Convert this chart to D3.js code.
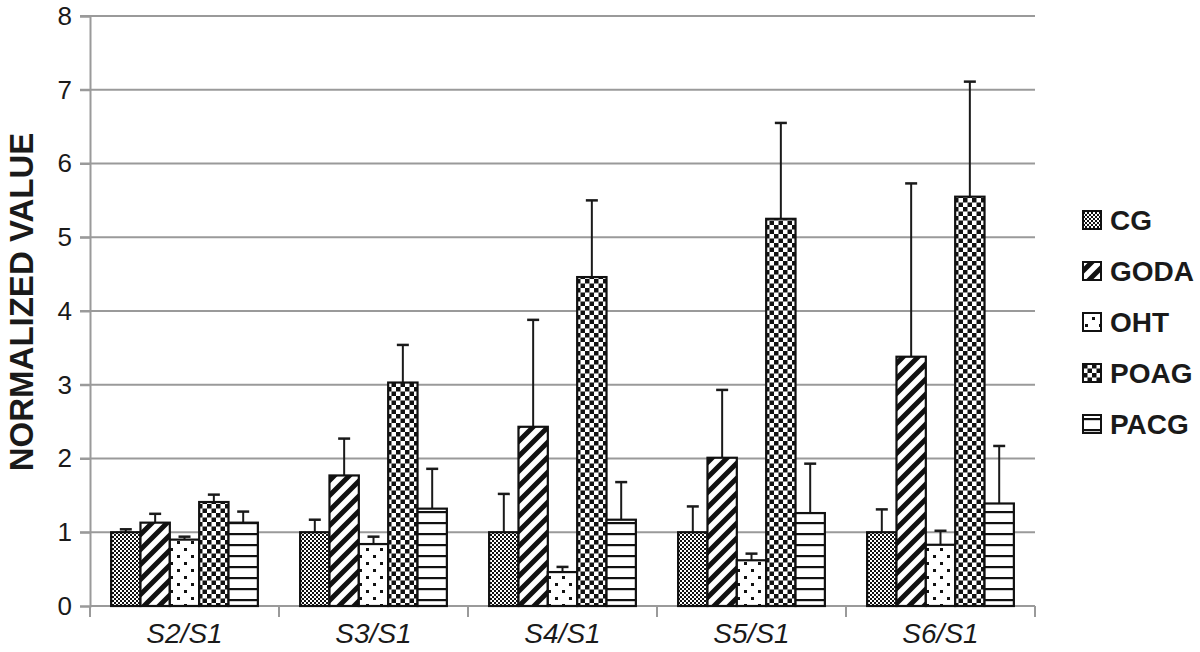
<!DOCTYPE html>
<html>
<head>
<meta charset="utf-8">
<script src="https://cdn.jsdelivr.net/npm/d3@7"></script>
<style>
  body { margin: 0; background: #fff; }
  svg { display: block; font-family: "Liberation Sans", Arial, sans-serif; }
</style>
</head>
<body>
<svg id="drawing_region"></svg>
<script>
// categories and series
const categories = ['S2/S1', 'S3/S1', 'S4/S1', 'S5/S1', 'S6/S1'];
const groups = ['CG', 'GODA', 'OHT', 'POAG', 'PACG'];

// mean values per group, one entry per category
const cgValues   = [1.00, 1.00, 1.00, 1.00, 1.00];
const godaValues = [1.13, 1.77, 2.43, 2.01, 3.38];
const ohtValues  = [0.90, 0.84, 0.46, 0.62, 0.83];
const poagValues = [1.41, 3.03, 4.46, 5.25, 5.55];
const pacgValues = [1.13, 1.32, 1.17, 1.26, 1.39];

// top of error bar (mean + sd)
const cgErr   = [1.04, 1.17, 1.52, 1.35, 1.31];
const godaErr = [1.25, 2.27, 3.88, 2.93, 5.73];
const ohtErr  = [0.94, 0.94, 0.53, 0.71, 1.02];
const poagErr = [1.51, 3.54, 5.50, 6.55, 7.11];
const pacgErr = [1.28, 1.86, 1.68, 1.93, 2.17];

const yTicks = [0, 1, 2, 3, 4, 5, 6, 7, 8];

const values = { CG: cgValues, GODA: godaValues, OHT: ohtValues, POAG: poagValues, PACG: pacgValues };
const errors = { CG: cgErr, GODA: godaErr, OHT: ohtErr, POAG: poagErr, PACG: pacgErr };

const data = [];
categories.forEach((c, i) => {
    groups.forEach(g => {
        data.push({ cat: c, group: g, value: values[g][i], err: errors[g][i] });
    });
});

const width = 1200, height = 652;
const margin = { left: 90, right: 165, top: 16, bottom: 46 };

const svg = d3.select('#drawing_region')
    .attr('width', width)
    .attr('height', height);

// patterns
const defs = svg.append('defs');

let p = defs.append('pattern').attr('id', 'pat-CG')
    .attr('patternUnits', 'userSpaceOnUse').attr('width', 4).attr('height', 4);
p.append('rect').attr('width', 4).attr('height', 4).attr('fill', '#fff');
p.append('rect').attr('x', 0).attr('y', 0).attr('width', 2).attr('height', 2).attr('fill', '#111');
p.append('rect').attr('x', 2).attr('y', 2).attr('width', 2).attr('height', 2).attr('fill', '#111');

p = defs.append('pattern').attr('id', 'pat-GODA')
    .attr('patternUnits', 'userSpaceOnUse').attr('width', 15).attr('height', 15);
p.append('rect').attr('width', 15).attr('height', 15).attr('fill', '#fff');
p.append('path').attr('d', 'M-4,19 L19,-4 M-4,4 L4,-4 M11,19 L19,11')
    .attr('stroke', '#111').attr('stroke-width', 5);

p = defs.append('pattern').attr('id', 'pat-OHT')
    .attr('patternUnits', 'userSpaceOnUse').attr('width', 14).attr('height', 14);
p.append('rect').attr('width', 14).attr('height', 14).attr('fill', '#fff');
p.append('rect').attr('x', 2).attr('y', 2).attr('width', 3).attr('height', 3).attr('fill', '#111');
p.append('rect').attr('x', 9).attr('y', 9).attr('width', 3).attr('height', 3).attr('fill', '#111');

p = defs.append('pattern').attr('id', 'pat-POAG')
    .attr('patternUnits', 'userSpaceOnUse').attr('width', 9).attr('height', 9);
p.append('rect').attr('width', 9).attr('height', 9).attr('fill', '#fff');
p.append('rect').attr('x', 0).attr('y', 0).attr('width', 4.5).attr('height', 4.5).attr('fill', '#111');
p.append('rect').attr('x', 4.5).attr('y', 4.5).attr('width', 4.5).attr('height', 4.5).attr('fill', '#111');

p = defs.append('pattern').attr('id', 'pat-PACG')
    .attr('patternUnits', 'userSpaceOnUse').attr('width', 11).attr('height', 11);
p.append('rect').attr('width', 11).attr('height', 11).attr('fill', '#fff');
p.append('rect').attr('x', 0).attr('y', 5).attr('width', 11).attr('height', 2.2).attr('fill', '#111');

// scales
const x0 = d3.scaleBand()
    .domain(categories)
    .range([margin.left, width - margin.right])
    .padding(0);

const x1 = d3.scaleBand()
    .domain(groups)
    .range([0, x0.bandwidth()])
    .paddingInner(0)
    .paddingOuter(0.72);

const y = d3.scaleLinear()
    .domain([0, 8])
    .range([height - margin.bottom, margin.top]);

// grid lines
svg.append('g')
    .selectAll('line')
    .data(yTicks.slice(1))
    .enter()
    .append('line')
    .attr('x1', margin.left - 10)
    .attr('x2', width - margin.right)
    .attr('y1', d => y(d))
    .attr('y2', d => y(d))
    .attr('stroke', '#9a9a9a')
    .attr('stroke-width', 2);

// y axis
const yAxis = svg.append('g')
    .attr('transform', `translate(${margin.left},0)`)
    .call(d3.axisLeft(y).tickValues(yTicks).tickSize(10).tickPadding(8));
yAxis.select('.domain').attr('stroke', '#9a9a9a').attr('stroke-width', 2);
yAxis.selectAll('.tick line').attr('stroke', '#9a9a9a').attr('stroke-width', 2);
yAxis.selectAll('text')
    .attr('font-size', 26)
    .attr('fill', '#1a1a1a')
    .attr('font-family', '"Liberation Sans", Arial, sans-serif');

// x axis
const xAxis = svg.append('g')
    .attr('transform', `translate(0,${y(0)})`)
    .call(d3.axisBottom(x0).tickSize(0).tickPadding(17));
xAxis.select('.domain').remove();
xAxis.append('line')
    .attr('x1', margin.left).attr('x2', width - margin.right)
    .attr('stroke', '#9a9a9a').attr('stroke-width', 2);
xAxis.selectAll('.sep')
    .data(categories.concat(['end']))
    .enter()
    .append('line')
    .attr('class', 'sep')
    .attr('x1', (d, i) => margin.left + i * x0.step())
    .attr('x2', (d, i) => margin.left + i * x0.step())
    .attr('y1', 0).attr('y2', 11)
    .attr('stroke', '#9a9a9a').attr('stroke-width', 2);
xAxis.selectAll('text')
    .attr('font-size', 28)
    .attr('font-style', 'italic')
    .attr('fill', '#1a1a1a')
    .attr('font-family', '"Liberation Sans", Arial, sans-serif');

// error bars
const errG = svg.append('g');
errG.selectAll('line.v')
    .data(data)
    .enter()
    .append('line')
    .attr('class', 'v')
    .attr('x1', d => x0(d.cat) + x1(d.group) + x1.bandwidth() / 2)
    .attr('x2', d => x0(d.cat) + x1(d.group) + x1.bandwidth() / 2)
    .attr('y1', d => y(d.value))
    .attr('y2', d => y(d.err))
    .attr('stroke', '#1a1a1a')
    .attr('stroke-width', 2);
errG.selectAll('line.cap')
    .data(data)
    .enter()
    .append('line')
    .attr('class', 'cap')
    .attr('x1', d => x0(d.cat) + x1(d.group) + x1.bandwidth() / 2 - 6)
    .attr('x2', d => x0(d.cat) + x1(d.group) + x1.bandwidth() / 2 + 6)
    .attr('y1', d => y(d.err))
    .attr('y2', d => y(d.err))
    .attr('stroke', '#1a1a1a')
    .attr('stroke-width', 2.5);

// bars
svg.append('g')
    .selectAll('rect')
    .data(data)
    .enter()
    .append('rect')
    .attr('x', d => x0(d.cat) + x1(d.group))
    .attr('y', d => y(d.value))
    .attr('width', x1.bandwidth())
    .attr('height', d => y(0) - y(d.value))
    .attr('fill', d => `url(#pat-${d.group})`)
    .attr('stroke', '#111')
    .attr('stroke-width', 2.2);

// y axis title
svg.append('text')
    .attr('transform', `translate(33,302) rotate(-90)`)
    .attr('text-anchor', 'middle')
    .attr('font-size', 33)
    .attr('font-weight', 'bold')
    .attr('fill', '#1a1a1a')
    .text('NORMALIZED VALUE');

// legend
const legend = svg.append('g')
    .selectAll('g')
    .data(groups)
    .enter()
    .append('g')
    .attr('transform', (d, i) => `translate(1083,${220 + i * 51})`);
legend.append('rect')
    .attr('x', 0).attr('y', -9)
    .attr('width', 18).attr('height', 18)
    .attr('fill', d => `url(#pat-${d})`)
    .attr('stroke', '#111')
    .attr('stroke-width', 2);
legend.append('text')
    .attr('x', 27)
    .attr('y', 0)
    .attr('dy', '0.36em')
    .attr('font-size', 28)
    .attr('font-weight', 'bold')
    .attr('fill', '#1a1a1a')
    .text(d => d);
</script>
</body>
</html>
